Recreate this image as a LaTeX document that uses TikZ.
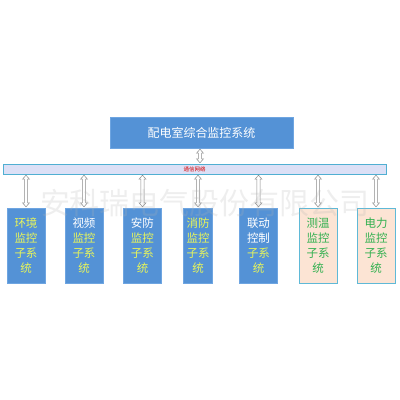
\documentclass[tikz,border=0pt]{standalone}
\usepackage{fontspec}
\newfontfamily\cjk{Noto Sans CJK SC}
\usetikzlibrary{calc}
\definecolor{boxblue}{RGB}{84,146,214}
\definecolor{boxedge}{RGB}{110,165,225}
\definecolor{subyellow}{RGB}{232,245,90}
\definecolor{peach}{RGB}{252,228,212}
\definecolor{peachedge}{RGB}{95,185,215}
\definecolor{subgreen}{RGB}{50,176,80}
\definecolor{barfill}{RGB}{220,224,246}
\definecolor{baredge}{RGB}{80,175,210}
\tikzset{
    mainbox/.style={rectangle, minimum width=183pt, minimum height=31pt, text centered, draw=boxedge, fill=boxblue, text=white, font=\fontsize{12}{14}\selectfont\cjk},
    netbar/.style={rectangle, minimum width=383pt, minimum height=10pt, inner sep=0pt, draw=baredge, fill=barfill, text=red!85!black, font=\fontsize{5.5}{6}\selectfont\cjk},
    subsys/.style={rectangle, minimum width=38pt, minimum height=75pt, inner sep=0pt, align=center, draw=boxedge, fill=boxblue, text=subyellow, font=\fontsize{11.5}{15}\selectfont\cjk},
    subtemp/.style={subsys, draw=peachedge, fill=peach, text=subgreen},
    linkarrow/.style={draw=gray!90, fill=white, line width=0.5pt, line join=miter}
}
% hollow double arrow, from the upper point #1 down to the lower point #2
\newcommand{\dblink}[2]{%
    \draw [linkarrow] let \p1=(#1), \p2=(#2) in
        (\x1,\y1-1pt) -- (\x1+3.5pt,\y1-5pt) -- (\x1+1.7pt,\y1-5pt) -- (\x1+1.7pt,\y2+5pt)
        -- (\x1+3.5pt,\y2+5pt) -- (\x1,\y2+1pt) -- (\x1-3.5pt,\y2+5pt) -- (\x1-1.7pt,\y2+5pt)
        -- (\x1-1.7pt,\y1-5pt) -- (\x1-3.5pt,\y1-5pt) -- cycle;}
\begin{document}
\begin{tikzpicture}[x=1pt, y=-1pt]
    \useasboundingbox (0,0) rectangle (400,400);

    \node (top) [mainbox] at (201.5,132.5) {配电室综合监控系统};
    \node (net) [netbar] at (194.5,169) {通信网络};

    \node (env) [subsys] at (26,245.5) {环境\\监控\\子系\\统};
    \node (video) [subsys] at (84,245.5) {\textcolor{white}{视频}\\监控\\子系\\统};
    \node (sec) [subsys] at (142.5,245.5) {\textcolor{white}{安防}\\监控\\子系\\统};
    \node (fire) [subsys, minimum width=29pt] at (198,245.5) {消防\\监控\\子系\\统};
    \node (link) [subsys] at (258.5,245.5) {\textcolor{white}{联动}\\\textcolor{white}{控制}\\子系\\统};
    \node (temp) [subtemp] at (318,245.5) {测温\\监控\\子系\\统};
    \node (power) [subtemp] at (376,245.5) {电力\\监控\\子系\\统};

    \coordinate (upper) at (200,132.5);
    \dblink{top.south -| upper}{net.north -| upper}
    \dblink{net.south -| env}{env.north}
    \dblink{net.south -| video}{video.north}
    \dblink{net.south -| sec}{sec.north}
    \dblink{net.south -| fire}{fire.north}
    \dblink{net.south -| link}{link.north}
    \dblink{net.south -| temp}{temp.north}
    \dblink{net.south -| power}{power.north}

    % watermark
    \node [text=gray!60, opacity=0.22, font=\fontsize{30}{32}\selectfont\cjk] at (205,203) {安科瑞电气股份有限公司};

\end{tikzpicture}
\end{document}
